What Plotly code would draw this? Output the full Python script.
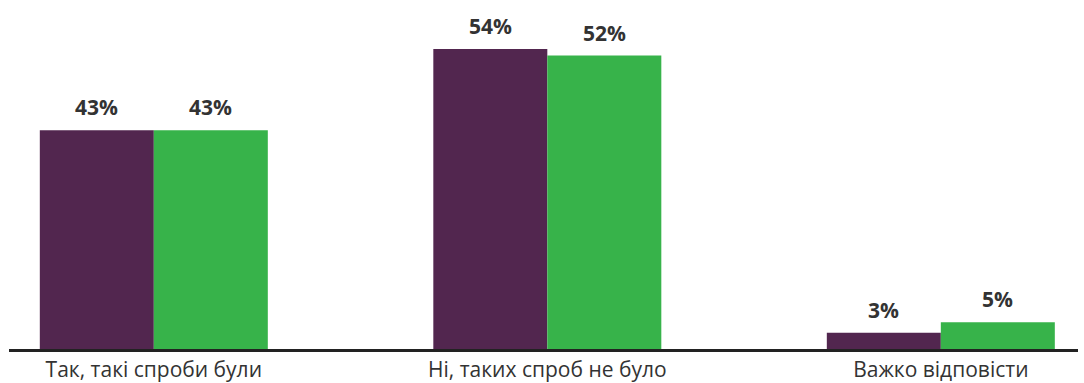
import plotly.graph_objects as go

categories = ["Так, такі спроби були", "Ні, таких спроб не було", "Важко відповісти"]
series_a_values = [39.3, 53.9, 2.9]
series_b_values = [39.3, 52.7, 4.8]
series_a_labels = ["43%", "54%", "3%"]
series_b_labels = ["43%", "52%", "5%"]

PURPLE = "#52264F"
GREEN = "#37B34A"
TEXT = "#333333"
FONT = "Open Sans"

fig = go.Figure()
fig.add_trace(go.Bar(x=categories, y=series_a_values, marker_color=PURPLE,
                     marker_line_width=0, hoverinfo="skip"))
fig.add_trace(go.Bar(x=categories, y=series_b_values, marker_color=GREEN,
                     marker_line_width=0, hoverinfo="skip"))

annotations = []
for cat, v, t in zip(categories, series_a_values, series_a_labels):
    annotations.append(dict(x=cat, y=v, text=f"<b>{t}</b>", xshift=-57, yshift=7,
                            yanchor="bottom", showarrow=False,
                            font=dict(family=FONT, size=21, color=TEXT)))
for cat, v, t in zip(categories, series_b_values, series_b_labels):
    annotations.append(dict(x=cat, y=v, text=f"<b>{t}</b>", xshift=57, yshift=7,
                            yanchor="bottom", showarrow=False,
                            font=dict(family=FONT, size=21, color=TEXT)))

fig.update_layout(
    width=1084, height=383,
    margin=dict(l=9, r=6, t=0, b=32),
    paper_bgcolor="white", plot_bgcolor="white",
    barmode="group", bargap=0.4206, bargroupgap=0,
    showlegend=False,
    annotations=annotations,
    font=dict(family=FONT, color=TEXT),
)
fig.update_xaxes(
    range=[-0.368, 2.3486],
    showline=True, linecolor="#222222", linewidth=2.5,
    showgrid=False, zeroline=False, ticks="",
    tickfont=dict(family=FONT, size=21, color=TEXT),
)
fig.update_yaxes(
    range=[0, 62.68], visible=False, showgrid=False, zeroline=False,
)

fig.write_html(
    "out.html",
    config={"displayModeBar": False},
    post_script="document.body.style.margin='0';document.body.style.overflow='hidden';",
)
